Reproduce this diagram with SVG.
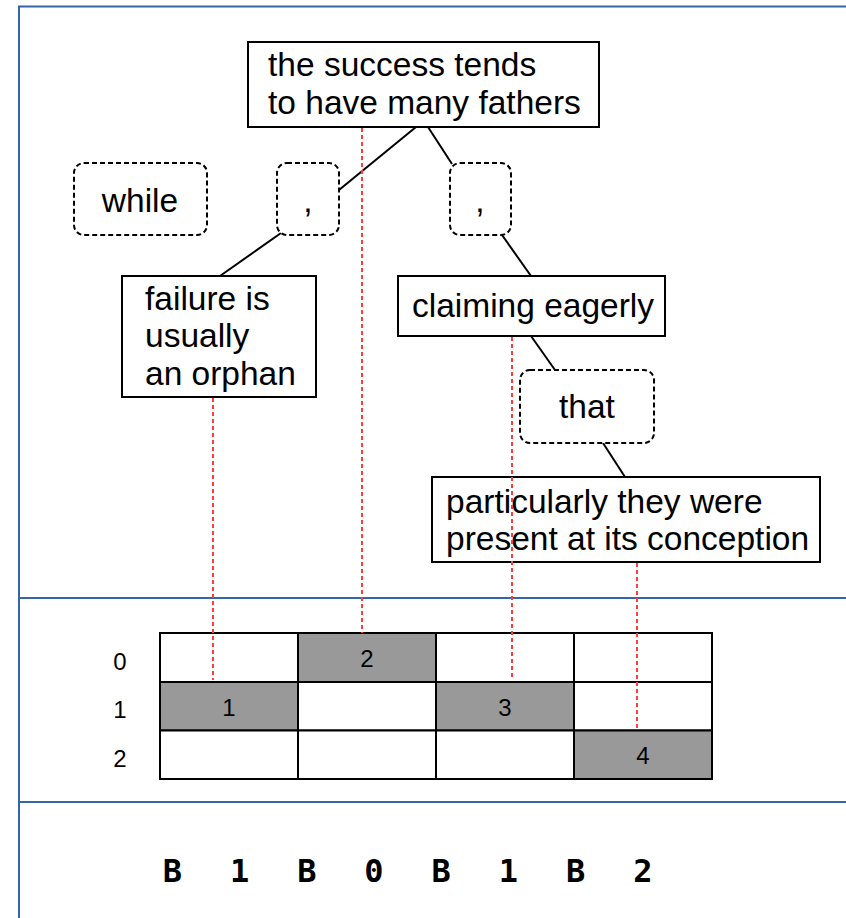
<svg xmlns="http://www.w3.org/2000/svg" width="846" height="918" viewBox="0 0 846 918">
<style>
.frame{stroke:#3465a4;stroke-width:2;fill:none}
.box{fill:#fff;stroke:#000;stroke-width:2}
.dbox{fill:#fff;stroke:#000;stroke-width:2;stroke-dasharray:5,3}
.t{font-family:"Liberation Sans",Arial,sans-serif;font-size:33.5px;fill:#000}
.c{text-anchor:middle}
.edge{stroke:#000;stroke-width:2;fill:none}
.guide{stroke:#ff3b3b;stroke-width:2;stroke-dasharray:4,3;fill:none}
.cell{stroke:#000;stroke-width:2}
.w{fill:#fff}
.g{fill:#999}
.n{font-family:"Liberation Sans",Arial,sans-serif;font-size:24px;fill:#000;text-anchor:middle}
.m{font-family:"DejaVu Sans Mono",monospace;font-weight:bold;font-size:32px;fill:#000;text-anchor:middle}
</style>
<rect width="846" height="918" fill="#fff"/>
<g id="frame">
<line class="frame" x1="18" y1="6.5" x2="846" y2="6.5"/>
<line class="frame" x1="19" y1="6" x2="19" y2="918"/>
<line class="frame" x1="19" y1="598" x2="846" y2="598"/>
<line class="frame" x1="19" y1="802" x2="846" y2="802"/>
</g>
<g id="connectors">
<line class="edge" x1="416" y1="127" x2="339" y2="190"/>
<line class="edge" x1="428" y1="127" x2="452" y2="164"/>
<line class="edge" x1="281" y1="233" x2="220" y2="276"/>
<line class="edge" x1="502" y1="235" x2="531" y2="276"/>
<line class="edge" x1="531" y1="336" x2="555" y2="370"/>
<line class="edge" x1="603" y1="443" x2="625" y2="477"/>
</g>
<g id="n_top">
<rect class="box" x="248" y="42" width="351" height="85"/>
<text class="t" x="268" y="76">the success tends</text>
<text class="t" x="268" y="113.5">to have many fathers</text>
</g>
<g id="n_while">
<rect class="dbox" x="74" y="163" width="133" height="72" rx="10"/>
<text class="t c" x="140" y="211.5">while</text>
</g>
<g id="n_comma1">
<rect class="dbox" x="277" y="163" width="62" height="72" rx="10"/>
<text class="t c" x="308" y="211.5">,</text>
</g>
<g id="n_comma2">
<rect class="dbox" x="450" y="163" width="61" height="72" rx="10"/>
<text class="t c" x="480" y="211.5">,</text>
</g>
<g id="n_failure">
<rect class="box" x="122" y="276" width="194" height="121"/>
<text class="t" x="145" y="309.5">failure is</text>
<text class="t" x="145" y="347">usually</text>
<text class="t" x="145" y="384.5">an orphan</text>
</g>
<g id="n_claiming">
<rect class="box" x="398" y="276" width="267" height="60"/>
<text class="t" x="412" y="316.5">claiming eagerly</text>
</g>
<g id="n_that">
<rect class="dbox" x="520" y="370" width="134" height="73" rx="10"/>
<text class="t c" x="587" y="418">that</text>
</g>
<g id="n_particularly">
<rect class="box" x="432" y="477" width="388" height="85"/>
<text class="t" x="446" y="512.5">particularly they were</text>
<text class="t" x="446" y="550">present at its conception</text>
</g>
<g id="grid">
<rect class="cell w" x="160" y="633" width="138" height="49"/>
<rect class="cell g" x="298" y="633" width="138" height="49"/>
<rect class="cell w" x="436" y="633" width="138" height="49"/>
<rect class="cell w" x="574" y="633" width="138" height="49"/>
<rect class="cell g" x="160" y="682" width="138" height="48.5"/>
<rect class="cell w" x="298" y="682" width="138" height="48.5"/>
<rect class="cell g" x="436" y="682" width="138" height="48.5"/>
<rect class="cell w" x="574" y="682" width="138" height="48.5"/>
<rect class="cell w" x="160" y="730.5" width="138" height="48.5"/>
<rect class="cell w" x="298" y="730.5" width="138" height="48.5"/>
<rect class="cell w" x="436" y="730.5" width="138" height="48.5"/>
<rect class="cell g" x="574" y="730.5" width="138" height="48.5"/>
<text class="n" x="367" y="666.5">2</text>
<text class="n" x="229" y="715.5">1</text>
<text class="n" x="505" y="715.5">3</text>
<text class="n" x="643" y="764">4</text>
<text class="n" x="120" y="670">0</text>
<text class="n" x="120" y="718">1</text>
<text class="n" x="120" y="767">2</text>
</g>
<g id="guides">
<line class="guide" x1="213" y1="398" x2="213" y2="680"/>
<line class="guide" x1="362" y1="128" x2="362" y2="633"/>
<line class="guide" x1="512" y1="337" x2="512" y2="679"/>
<line class="guide" x1="637" y1="563" x2="637" y2="729"/>
</g>
<g id="code">
<text class="m" x="172.4" y="882">B</text>
<text class="m" x="239.6" y="882">1</text>
<text class="m" x="306.8" y="882">B</text>
<text class="m" x="374" y="882">0</text>
<text class="m" x="441.2" y="882">B</text>
<text class="m" x="508.4" y="882">1</text>
<text class="m" x="575.6" y="882">B</text>
<text class="m" x="642.8" y="882">2</text>
</g>
</svg>
